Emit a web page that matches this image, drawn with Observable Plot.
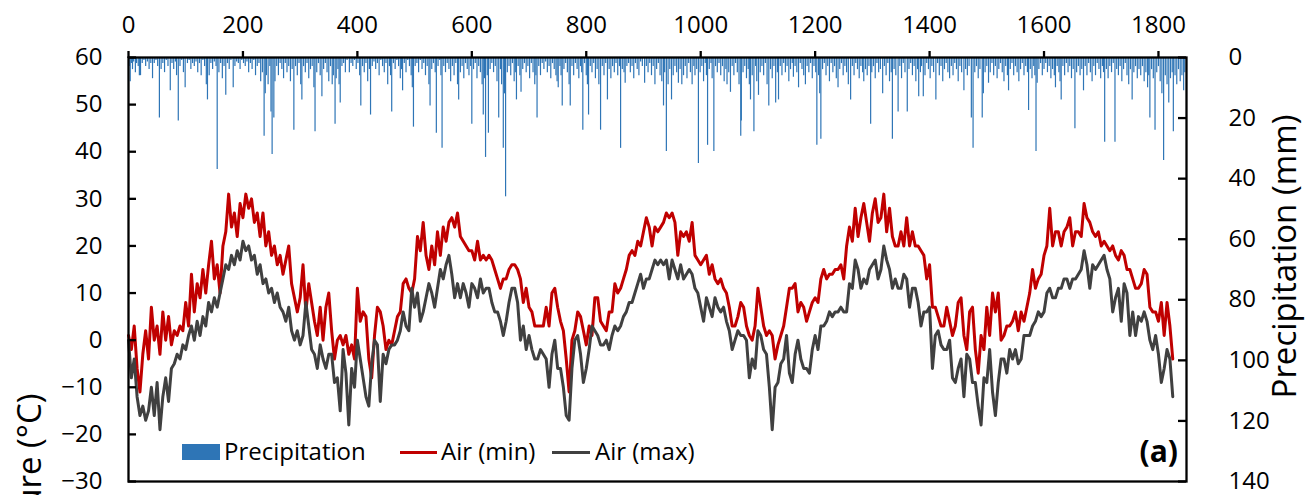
<!DOCTYPE html>
<html><head><meta charset="utf-8">
<script src="https://cdn.jsdelivr.net/npm/d3@7"></script>
<script src="https://cdn.jsdelivr.net/npm/@observablehq/plot@0.6"></script>
<style>
body{margin:0;background:#fff;}
#wrap{position:relative;width:1308px;height:495px;overflow:hidden;font-family:"Open Sans",sans-serif;background:#fff;}
.leg{position:absolute;font-size:24px;line-height:1;color:#000;white-space:nowrap;}
</style></head><body><div id="wrap"></div><script>
// Sampled every 5 days, day 0 .. 1825
const dayStep = 5;
const airMin = [
1,-2,3,-6,-11,-3,2,-4,7,0, 3,-3,6,0,5,-1,2,1,3,2, 8,3,14,6,12,9,15,10,16,21, 13,16,10,20,23,31,24,27,22,29,
26,31,28,30,25,27,22,27,20,23, 18,20,16,18,14,17,20,12,9,6, 9,16,6,
12,8,4,1,7,0,7,10,2,-4, 0,1,-1,1,-3,-1,-4,11,4,6, 5,-4,-8,1,7,6,3,-2,0,-1, 2,5,6,12,13,11,10,13,22,19,
25,18,15,20,16,23,18,24,21,25, 26,24,27,22,21,20,19,19,17,21, 17,18,
17,18,17,15,13,11,13,13,15,16, 16,15,13,8,11,7,6,3,3,3, 3,7,3,10,11,7,4,2,-4,-11, 0,2,6,5,2,-1,3,1,9,9,
4,3,2,6,6,12,10,11,13,15, 18,19,18,21,20,23,26,24,20,24, 23,24,
25,27,26,27,25,18,23,22,23,21, 25,18,17,16,17,18,14,16,13,12, 13,11,10,7,3,3,5,8,7,3, 1,0,3,11,7,3,1,2,1,-4,
-1,1,3,7,11,11,12,6,8,7, 4,6,8,9,8,13,15,13,14,14, 15,
15,16,13,20,24,21,28,22,26,29, 25,21,27,30,25,26,31,23,28,22, 20,20,23,20,26,20,23,20,20,19, 18,13,16,7,7,5,3,3,7,4,
1,3,8,9,1,-2,6,7,-2,-7, 1,-2,7,1,10,6,10,0,1,3, 3,
4,6,2,6,4,7,10,15,11,13, 14,18,20,28,20,23,23,20,23,24, 26,20,23,23,22,29,26,25,23,22, 23,20,21,20,19,20,18,17,19,18,
15,15,13,11,11,12,15,14,7,6, 6,4,8,1,8,3,-4
];
const airMax = [
0,-8,-4,-12,-16,-14,-17,-15,-10,-16, -9,-19,-12,-8,-13,-6,-5,-3,-4,-1, -2,1,3,0,4,1,5,3,8,6, 9,7,10,13,16,15,18,16,19,17,
21,19,20,17,18,14,16,12,13,10, 11,8,10,7,6,4,7,2,0,2, -1,1,8,
3,-2,-3,-6,-1,-4,-6,-3,-3,-9, -8,-15,-2,-7,-18,-6,-10,0,-4,-8, -12,-14,-5,0,-1,-13,-3,-5,-2,-1, -1,0,2,6,3,2,11,7,10,4,
6,9,12,10,7,11,15,13,16,18, 14,9,12,9,12,10,7,12,11,9, 13,10,
11,11,8,6,6,4,1,4,8,11, 11,8,0,3,-2,1,-2,-4,-4,-2, -3,-4,-10,-3,0,-6,-6,-10,-16,-17, -6,0,1,-3,-9,-6,-2,3,2,1,
-1,-1,0,-2,1,3,2,3,5,6, 8,8,10,12,14,11,13,13,15,17, 16,17,
16,17,13,17,15,13,16,13,14,15, 14,11,10,7,4,9,7,5,9,7, 6,7,4,2,-2,0,2,1,1,0, -8,-4,-6,2,1,-2,-3,-10,-19,-10,
-9,-5,-4,1,-7,-9,-3,0,-4,-6, -6,-7,-2,1,-2,3,3,4,6,5, 6,
6,7,6,6,12,11,17,15,11,13, 12,15,16,17,13,15,20,17,15,11, 13,11,11,14,13,7,11,11,8,3, 6,6,7,-6,1,2,-1,-2,-2,0,
-8,-9,-6,-4,-12,-3,-4,-9,-9,-14, -18,-8,-9,-2,-11,-16,-9,-4,-4,-7, -2,
-4,-2,-5,-4,1,1,1,3,4,6, 5,6,10,11,9,9,11,11,13,13, 11,13,13,14,15,19,16,11,16,15, 16,17,18,15,13,6,9,11,4,12,
10,1,6,1,5,4,6,4,0,-2, 1,-3,-9,-6,-2,-4,-12
];
// [day, mm]
const precipitation = [
[1,3],[3,8],[5,2],[7,4],[9,1.5],[12,5],[14,2],[17,3],[19,6],[21,6],[24,2],[27,1],[30,3],[33,1.5],[36,4],[39,2],[42,7],[45,2],[48,1],[51,3],[54,20],[57,4],[60,2],[63,5],[66,1],[69,3],[73,11],[76,2],[79,4],[82,1.5],[84,6],[87,21],[90,3],[93,1],[96,5],[99,10],
[103,2],[106,1],[109,4],[112,2],[115,3],[118,1.5],[121,5],[124,2],[127,6],[130,1],[133,3],[136,9],[138,14],[141,6],[144,2],[147,4],[150,1.5],[153,3],[155,37],[158,5],[161,2],[164,7],[167,3],[170,12.5],[173,2],[176,4],[179,1],[183,10],[186,3],[189,1.5],[192,2],[195,4],[198,1],
[201,2],[204,3],[207,1.5],[210,5],[213,2],[216,4],[219,1],[222,6],[225,3],[228,2],[231,8],[234,5],[237,26],[239,12],[241,6],[244,9],[247,3],[249,18],[251,32],[254,20],[256,8],[259,3],[262,6],[265,2],[268,4],[271,7],[274,2],[277,5],[280,3],[283,8],[286,4],[289,24],[292,3],[295,6],[298,2],
[301,9],[303,14],[306,3],[309,5],[312,2],[315,7],[318,4],[321,3],[324,10],[326,24.5],[329,5],[332,2],[335,6],[338,13],[341,4],[344,2],[347,5],[350,8],[353,3],[356,9],[358,6],[361,22],[363,7],[366,4],[368,9],[370,15],[373,3],[376,2],[379,5],[382,1],[386,5],[389,2],[392,3],[395,1],[398,4],
[401,2],[404,6],[406,16],[409,3],[412,5],[415,2],[418,8],[421,4],[423,19],[426,3],[429,1.5],[432,4],[435,2],[438,6],[441,1],[444,3],[447,5],[450,2],[453,9],[456,3],[458,6],[460,18],[463,2],[466,4],[469,1],[472,3],[475,7],[477,4],[479,11],[482,2],[485,5],[488,1],[491,3],[494,6],[496,10],[498,23],
[501,3],[504,2],[507,5],[510,1],[513,4],[516,2],[519,6],[522,3],[525,9],[527,16],[530,4],[533,2],[536,5],[538,25],[541,3],[544,1],[546,6],[548,30],[551,3],[554,5],[557,2],[560,4],[563,8],[566,3],[569,6],[572,2],[575,9],[577,14],[580,5],[583,3],[586,7],[589,2],[592,4],[595,6],[598,3],[600,22],
[603,4],[606,2],[609,7],[612,3],[615,5],[618,9],[620,19],[622,7],[624,33],[627,6],[629,25],[632,4],[635,2],[638,5],[641,3],[644,8],[647,20],[650,4],[652,9],[655,30],[657,12],[659,46],[662,5],[665,3],[668,6],[671,2],[674,8],[676,5],[678,14],[681,3],[684,6],[686,11.5],[689,4],[692,2],[695,5],[698,3],
[701,7],[704,2],[707,5],[710,9],[712,6],[714,20],[717,3],[720,6],[723,2],[726,4],[729,1.5],[732,5],[735,3],[738,7],[741,2],[744,4],[747,6],[749,8],[751,10],[754,3],[756,6],[758,16],[761,4],[764,2],[767,5],[770,9],[772,16],[775,3],[778,6],[781,2],[784,4],[787,7],[790,3],[792,5],[794,24],[797,2],
[800,6],[802,9],[804,19],[807,3],[810,5],[813,2],[816,7],[819,4],[822,9],[825,24],[828,3],[831,6],[834,2],[837,14],[840,4],[843,7],[846,3],[849,5],[852,2],[855,6],[858,3],[860,30],[863,4],[866,5],[868,8.5],[871,3],[874,2],[877,5],[880,3],[883,7],[886,2],[889,4],[892,6],[895,1.5],[898,3],
[902,8.5],[905,3],[908,5],[911,2],[914,6],[917,3],[920,9],[923,4],[926,2],[929,6],[932,8],[935,16],[937,5],[940,31],[943,9],[946,4],[949,14],[952,6],[955,3],[958,5],[961,8.5],[964,4],[967,9],[970,6],[973,3],[976,7],[979,2],[982,5],[985,9],[988,3],[990,6],[993,4],[996,35],[999,5],
[1002,3],[1005,8],[1008,2],[1010,6],[1012,29],[1015,4],[1018,2],[1020,7],[1023,31],[1026,3],[1029,5],[1032,2],[1035,6],[1038,3],[1041,8],[1044,4],[1046,9],[1049,5],[1052,11.5],[1055,3],[1058,6],[1061,2],[1064,5],[1067,9],[1070,26],[1071,21],[1074,5],[1077,3],[1080,7],[1083,4],[1085,9],[1087,14],[1090,6],[1093,24.5],[1096,3],[1098,8],
[1101,12.5],[1104,5],[1107,3],[1110,6],[1113,2],[1116,9],[1119,16],[1122,4],[1125,7],[1128,3],[1131,15],[1134,5],[1136,14],[1139,3],[1142,6],[1145,2],[1148,5],[1151,3],[1154,8],[1157,4],[1160,2],[1162,6.5],[1165,3],[1168,5],[1171,10],[1174,2],[1177,4],[1180,6],[1183,9],[1186,3],[1189,5],[1192,2],[1195,7],[1198,3],
[1201,5],[1203,29],[1206,6],[1208,12],[1210,27],[1213,4],[1216,2],[1219,6],[1222,3],[1225,8],[1228,2],[1231,5],[1234,3],[1237,7],[1240,10],[1243,4],[1246,2],[1249,6],[1252,3],[1255,5],[1258,9],[1262,14],[1265,3],[1268,6],[1271,2],[1274,4],[1277,7],[1280,3],[1283,5],[1285,8],[1288,4],[1291,6],[1294,3],[1297,22],[1299,5],
[1302,3],[1305,7],[1308,2],[1311,5],[1314,4],[1318,12],[1321,3],[1324,6],[1327,2],[1330,8],[1333,5],[1335,27],[1338,4],[1341,6],[1345,18],[1348,3],[1351,7],[1354,2],[1357,5],[1361,18],[1364,4],[1367,2],[1370,6],[1373,3],[1376,8],[1379,4],[1381,13],[1384,5],[1386,3],[1389,13],[1392,6],[1395,2],[1398,4],
[1401,7],[1404,3],[1407,5],[1411,14],[1414,2],[1417,6],[1420,3],[1423,8],[1426,4],[1429,2],[1432,5],[1435,7],[1438,3],[1441,6],[1444,2],[1447,4],[1450,8],[1453,3],[1456,5],[1460,11],[1463,4],[1466,6],[1469,3],[1473,20],[1476,30],[1479,5],[1482,3],[1485,7],[1488,4],[1492,20],[1494,12],[1497,5],
[1500,3],[1503,8.5],[1506,5],[1509,2],[1512,6],[1515,3],[1518,7],[1521,4],[1524,2],[1527,5],[1530,8],[1533,3],[1536,6],[1538,11],[1541,4],[1544,2],[1547,6],[1550,3],[1553,5],[1556,8],[1559,4],[1562,2],[1565,6],[1568,3],[1571,5],[1573,17.5],[1576,4],[1579,7],[1582,3],[1584,6],[1586,31],[1588,8.5],[1591,4],[1594,2],[1597,6],
[1600,4],[1603,2],[1606,5],[1609,3],[1612,7],[1615,4],[1618,6],[1620,10],[1623,3],[1626,5],[1628,8],[1630,14],[1633,3],[1636,6],[1639,2],[1642,5],[1645,3],[1648,7],[1651,4],[1654,23.5],[1657,5],[1660,3],[1663,6],[1666,4],[1669,11],[1672,3],[1675,6],[1678,2],[1681,5],[1684,8],[1687,3],[1690,6],[1693,2],[1696,4],[1699,7],
[1702,3],[1704,5],[1706,28],[1709,4],[1712,7],[1715,3],[1718,5],[1721,2],[1724,28],[1727,4],[1730,6],[1733,3],[1736,8],[1739,4],[1742,2],[1745,6],[1748,9],[1751,4],[1754,14],[1757,5],[1760,3],[1763,7],[1766,4],[1769,6],[1772,3],[1775,8],[1778,5],[1781,10],[1783,6],[1785,20],[1788,4],[1791,7],[1794,24],[1797,5],
[1800,3],[1803,8],[1806,12],[1809,34],[1812,6],[1815,9],[1818,15],[1821,7],[1824,5],[1826,24.5],[1829,6],[1832,9],[1835,4],[1838,8],[1841,6],[1844,11],[1846,5]
];
const xTicks = [0,200,400,600,800,1000,1200,1400,1600,1800];
const tempTicks = [-30,-20,-10,0,10,20,30,40,50,60];
const precipTicks = [0,20,40,60,80,100,120,140];
const seriesNames = ["Precipitation","Air (min)","Air (max)"];
const seriesColors = ["#2E75B6","#C00000","#404040"];

const W=1308,H=495,mL=128,mR=122,mT=57,mB=14;
const innerW = W-mL-mR;
// precipitation axis (right, inverted) mapped onto the temperature scale
const toT = mm => 60 - mm*90/140;
const temps = airMin.map((v,i)=>({day:i*dayStep, min:v, max:airMax[i]}));
const precip = precipitation.map(([day,mm])=>({day, mm}));

const chart = Plot.plot({
  width:W, height:H, marginLeft:mL, marginRight:mR, marginTop:mT, marginBottom:mB,
  style:{fontFamily:'"Open Sans", sans-serif', fontSize:"24px", color:"#000", background:"#fff", overflow:"visible"},
  x:{domain:[0,1849]},
  y:{domain:[-30,60]},
  marks:[
    Plot.ruleX(precip,{x:"day", y1:60, y2:d=>toT(d.mm), stroke:seriesColors[0], strokeWidth:1.2}),
    Plot.line(temps,{x:"day", y:"min", stroke:seriesColors[1], strokeWidth:3}),
    Plot.line(temps,{x:"day", y:"max", stroke:seriesColors[2], strokeWidth:3}),
    Plot.axisX(xTicks,{anchor:"top", tickSize:7, tickPadding:18, label:null, strokeWidth:2.3, fontSize:24, tickFormat:d=>String(d)}),
    Plot.axisY(tempTicks,{anchor:"left", tickSize:0, tickPadding:26, label:null, fontSize:24}),
    Plot.ruleY(tempTicks,{insetRight: innerW-8, strokeWidth:2.3, stroke:"#000"}),
    Plot.axisY(precipTicks.map(toT),{anchor:"right", tickSize:0, tickPadding:42, label:null, fontSize:24,
      tickFormat:t=>String(Math.round((60-t)*140/90))}),
    Plot.ruleY(precipTicks.map(toT),{insetLeft: innerW-8, strokeWidth:2.3, stroke:"#000"}),
    Plot.frame({stroke:"#000", strokeWidth:2.3}),
    Plot.text(["Temperature (°C)"],{frameAnchor:"bottom-left", dx:-98, dy:-88, rotate:-90, textAnchor:"end", lineAnchor:"middle", fontSize:33}),
    Plot.text(["Precipitation (mm)"],{frameAnchor:"right", dx:99, dy:-13, rotate:-90, textAnchor:"middle", lineAnchor:"middle", fontSize:33})
  ]
});
const wrap = document.getElementById("wrap");
wrap.appendChild(chart);

function add(html, style){ const d=document.createElement("div"); d.className="leg"; d.style.cssText=style; d.innerHTML=html; wrap.appendChild(d); return d; }
add("", `left:182px;top:444px;width:38px;height:16px;background:${seriesColors[0]};`);
add(seriesNames[0], "left:224px;top:439px;");
add("", `left:400px;top:451px;width:37px;height:3px;background:${seriesColors[1]};`);
add(seriesNames[1], "left:441px;top:439px;");
add("", `left:552px;top:451px;width:38px;height:3px;background:${seriesColors[2]};`);
add(seriesNames[2], "left:595px;top:439px;");
add("(a)", "right:130px;top:436px;font-size:30px;font-weight:bold;");
</script></body></html>
